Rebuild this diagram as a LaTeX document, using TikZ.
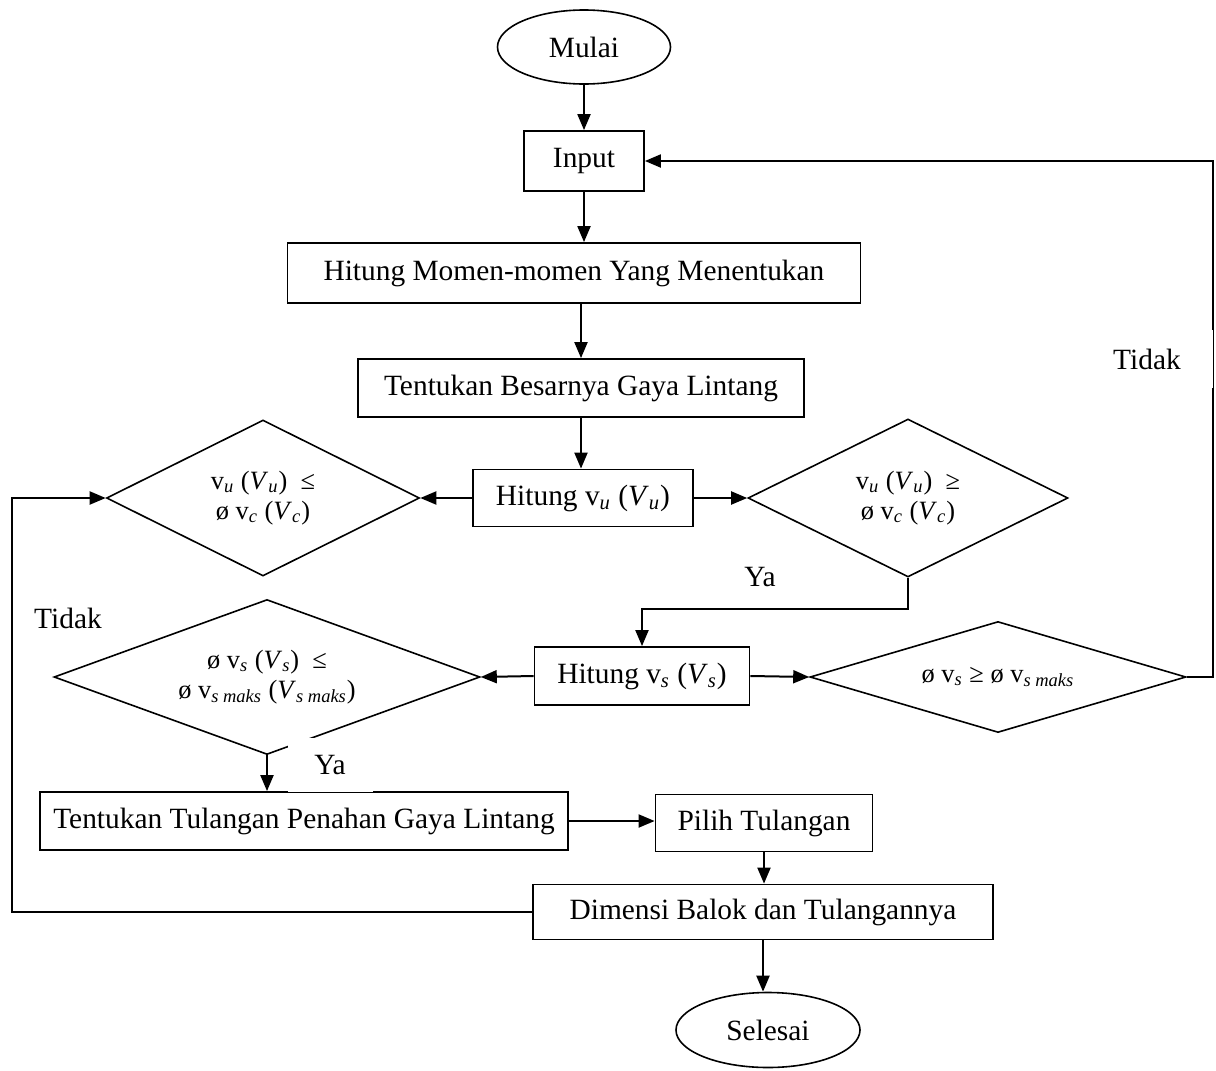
\documentclass[tikz,border=0pt]{standalone}
\usepackage{fontspec}
\setmainfont{Liberation Serif}
\usepackage{tikz}
\usetikzlibrary{arrows.meta,shapes.geometric}
\newcommand{\isub}[1]{\textsubscript{\textit{#1}}}

\begin{document}
\begin{tikzpicture}[x=0.5pt, y=-0.5pt, font=\fontsize{14.7}{18}\selectfont,
      proses/.style={draw, line width=0.9pt, inner sep=0pt, minimum height=29pt},
      terminal/.style={draw, ellipse, line width=0.8pt, inner sep=0pt},
      kondisi/.style={draw, diamond, line width=0.8pt, inner sep=0pt, align=center,
                      font=\fontsize{13.2}{15}\selectfont},
      panah/.style={-{Triangle[length=8pt,width=6.5pt]}, line width=1pt},
      garis/.style={line width=1pt},
      ket/.style={inner sep=0pt}]

      \useasboundingbox (0,0) rectangle (1216,1071);

      \node[terminal, minimum width=86.5pt, minimum height=37pt] (mulai) at (584,47) {Mulai};
      \node[proses, minimum width=60pt, minimum height=30pt] (input) at (584,161) {Input};
      \node[proses, minimum width=286.5pt, minimum height=30pt] (momen) at (574,273) {Hitung Momen-momen Yang Menentukan};
      \node[proses, minimum width=223pt] (besar) at (581,388) {Tentukan Besarnya Gaya Lintang};
      \node[proses, minimum width=110pt, minimum height=28.5pt] (hvu) at (583,498) {Hitung v\isub{u} (\textit{V}\isub{u})};

      \node[kondisi, aspect=2, minimum width=156.5pt, minimum height=78pt] (cekvc1) at (263,498)
            {v\isub{u} (\textit{V}\isub{u})~~≤\\ø v\isub{c} (\textit{V}\isub{c})};
      \node[kondisi, aspect=2, minimum width=160pt, minimum height=79pt] (cekvc2) at (908,498)
            {v\isub{u} (\textit{V}\isub{u})~~≥\\ø v\isub{c} (\textit{V}\isub{c})};

      \node[proses, minimum width=107.5pt] (hvs) at (642,676) {Hitung v\isub{s} (\textit{V}\isub{s})};
      \node[kondisi, aspect=2.75, minimum width=213pt, minimum height=77.5pt] (cekvs1) at (267,677)
            {ø v\isub{s} (\textit{V}\isub{s})~~≤\\ø v\isub{s maks} (\textit{V}\isub{s maks})};
      \node[kondisi, aspect=3.3, minimum width=188pt, minimum height=55.5pt] (cekvs2) at (998,677)
            {ø v\isub{s} ≥ ø v\isub{s maks}};

      \node[proses, minimum width=264pt] (tulangan) at (304,821) {Tentukan Tulangan Penahan Gaya Lintang};
      \node[proses, minimum width=108.5pt, minimum height=28.5pt] (pilih) at (764,823) {Pilih Tulangan};
      \node[proses, minimum width=230pt, minimum height=27.5pt] (dimensi) at (763,912) {Dimensi Balok dan Tulangannya};
      \node[terminal, minimum width=92pt, minimum height=37.5pt] (selesai) at (768,1030) {Selesai};

      \coordinate (kanan) at (1213,161);
      \coordinate (kiri) at (12,498);

      % alur utama
      \draw[panah] (mulai) -- (input);
      \draw[panah] (input.south) -- (input.south |- momen.north);
      \draw[panah] (besar.north |- momen.south) -- (besar.north);
      \draw[panah] (besar.south) -- (besar.south |- hvu.north);
      \draw[panah] (hvu.west) -- (cekvc1.east);
      \draw[panah] (hvu.east) -- (cekvc2.west);
      \draw[panah] (cekvc2.south) -- ++(0,31) -| (hvs.north);
      \draw[panah] (hvs.west) -- (cekvs1.east);
      \draw[panah] (hvs.east) -- (cekvs2.west);
      \draw[panah] (cekvs2.east) -| (kanan) -- (input.east);
      \draw[panah] (cekvs1.south) -- (cekvs1.south |- tulangan.north);
      \draw[panah] (tulangan.east) -- (tulangan.east -| pilih.west);
      \draw[panah] (pilih.south) -- (pilih.south |- dimensi.north);
      \draw[panah] (dimensi.south) -- (dimensi.south |- selesai.north);
      \draw[panah] (dimensi.west) -| (kiri) -- (cekvc1.west);

      % keterangan
      \node[ket] (ya1) at (760,577) {Ya};
      \node[ket, fill=white, minimum width=42.5pt, minimum height=27pt] (ya2) at (330,765) {Ya};
      \node[ket] (tidak1) at (68,618) {Tidak};
      \node[ket, fill=white, minimum width=66pt, minimum height=29pt] (tidak2) at (1147,359) {Tidak};
\end{tikzpicture}
\end{document}
